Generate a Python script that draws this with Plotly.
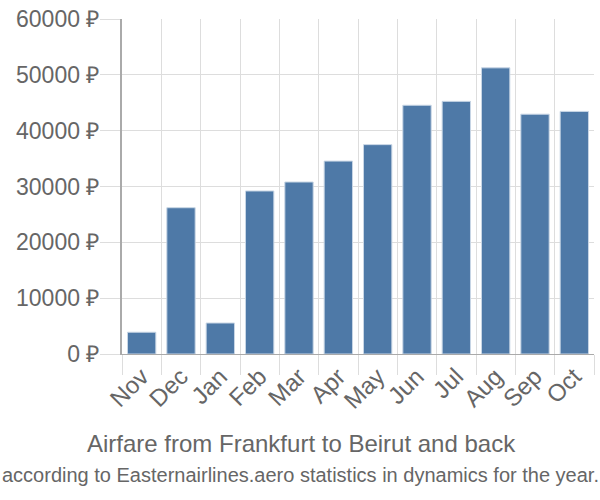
import plotly.graph_objects as go

months = ["Nov", "Dec", "Jan", "Feb", "Mar", "Apr", "May", "Jun", "Jul", "Aug", "Sep", "Oct"]
prices = [3900, 26200, 5550, 29200, 30800, 34550, 37500, 44550, 45250, 51250, 42950, 43450]
y_ticks = [0, 10000, 20000, 30000, 40000, 50000, 60000]
y_tick_labels = [f"{v} ₽" for v in y_ticks]
title_line1 = "Airfare from Frankfurt to Beirut and back"
title_line2 = "according to Easternairlines.aero statistics in dynamics for the year."

fig = go.Figure(
    go.Bar(
        x=months,
        y=prices,
        marker=dict(color="#4e79a7", line=dict(color="#c8d6e5", width=1)),
        width=0.72,
    )
)

W, H = 600, 500
ML, MR, MT, MB = 122, 6, 15, 146
plot_w = W - ML - MR
plot_h = H - MT - MB

def px_to_paper_x(px):
    return (px - ML) / plot_w

def px_to_paper_y(py):
    return (H - MB - py) / plot_h

fig.update_layout(
    width=W,
    height=H,
    margin=dict(l=ML, r=MR, t=MT, b=MB),
    paper_bgcolor="white",
    plot_bgcolor="white",
    font=dict(family="Liberation Sans, Arial, sans-serif", color="#666666", size=22),
    showlegend=False,
    annotations=[
        dict(text=title_line1, x=px_to_paper_x(301), y=px_to_paper_y(445), xref="paper", yref="paper",
             showarrow=False, font=dict(size=24, color="#666666"), xanchor="center", yanchor="middle"),
        dict(text=title_line2, x=px_to_paper_x(300.5), y=px_to_paper_y(476), xref="paper", yref="paper",
             showarrow=False, font=dict(size=20, color="#666666"), xanchor="center", yanchor="middle"),
    ],
)

fig.update_xaxes(
    type="category",
    tickson="boundaries",
    ticks="outside",
    ticklen=20,
    tickcolor="#dddddd",
    showgrid=True,
    gridcolor="#dddddd",
    gridwidth=1,
    showline=True,
    linecolor="#aaaaaa",
    linewidth=1,
    tickangle=-45,
    ticklabelstandoff=-2,
    tickfont=dict(size=24, color="#666666"),
)
fig.update_yaxes(
    range=[0, 60000],
    tickvals=y_ticks,
    ticktext=y_tick_labels,
    ticks="outside",
    ticklen=20,
    tickcolor="#dddddd",
    showgrid=True,
    gridcolor="#dddddd",
    gridwidth=1,
    showline=True,
    linecolor="#aaaaaa",
    linewidth=2,
    zeroline=False,
    ticklabelstandoff=-4,
    tickfont=dict(size=23, color="#666666"),
)

fig.write_html("out.html")
